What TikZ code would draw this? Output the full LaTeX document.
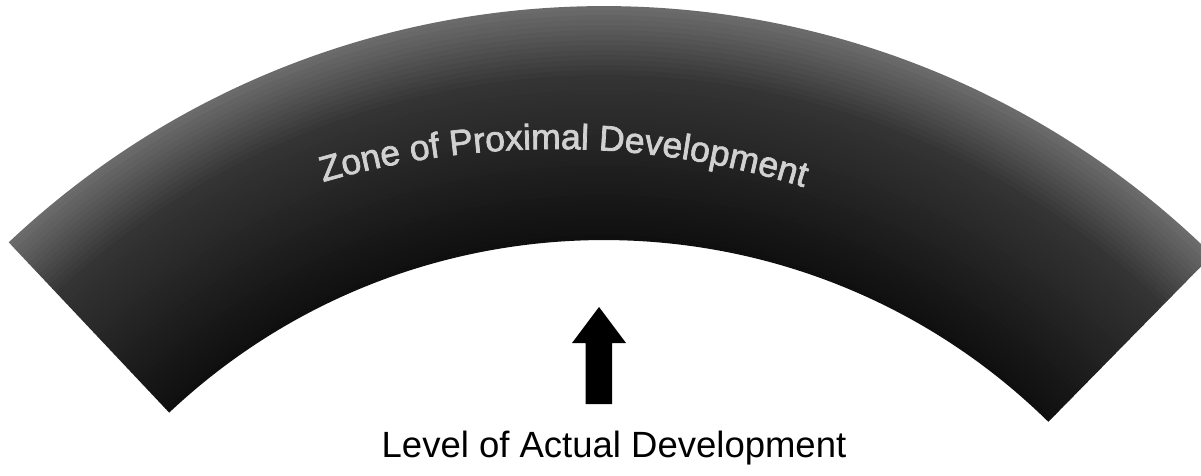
\documentclass[tikz,border=0pt]{standalone}
\usepackage{fontspec}
\setmainfont{Liberation Sans}
\newfontfamily\zonefont[FakeBold=2]{Liberation Sans}
\usetikzlibrary{decorations.text}
\begin{document}
\begin{tikzpicture}[x=1pt,y=1pt,
  labeltext/.style={font=\fontsize{36.5}{40}\selectfont, text=black, inner sep=0pt},
  arrowshape/.style={fill=black},
  zonetext/.style={decorate, decoration={text along path, text align=center,
     text color=black!18,
     text={|\zonefont\fontsize{35.5}{36}\selectfont|Zone of Proximal Development}}}]
\useasboundingbox (0,0) rectangle (1201,475);
% band (annular sector) with gradient from inner (dark) to outer (lighter)
\begin{scope}[shift={(604,-399)}]
  \foreach \i in {0,...,46}{
    \pgfmathsetmacro{\ra}{634+5*\i}
    \pgfmathsetmacro{\rb}{min(868,634+5*\i+5.6)}
    \pgfmathsetmacro{\pct}{94-0.45*\i - (\i>32)*1.1*(\i-32)}
    \fill[black!\pct] (45.5:\ra) arc[start angle=45.5, end angle=133.3, radius=\ra]
      -- (133.3:\rb) arc[start angle=133.3, end angle=45.5, radius=\rb] -- cycle;
  }
\end{scope}
% curved label
\coordinate (tc) at (555,-505);
\path[zonetext] (tc) ++(112:831) arc[start angle=112, end angle=66.8, radius=831];
% block arrow
\path[arrowshape] (585.5,71) -- (612,71) -- (612,132) -- (626,132) -- (599,168)
   -- (572,132) -- (585.5,132) -- cycle;
% bottom label
\node[labeltext, anchor=base] (lad) at (614,18) {Level of Actual Development};
\end{tikzpicture}
\end{document}
